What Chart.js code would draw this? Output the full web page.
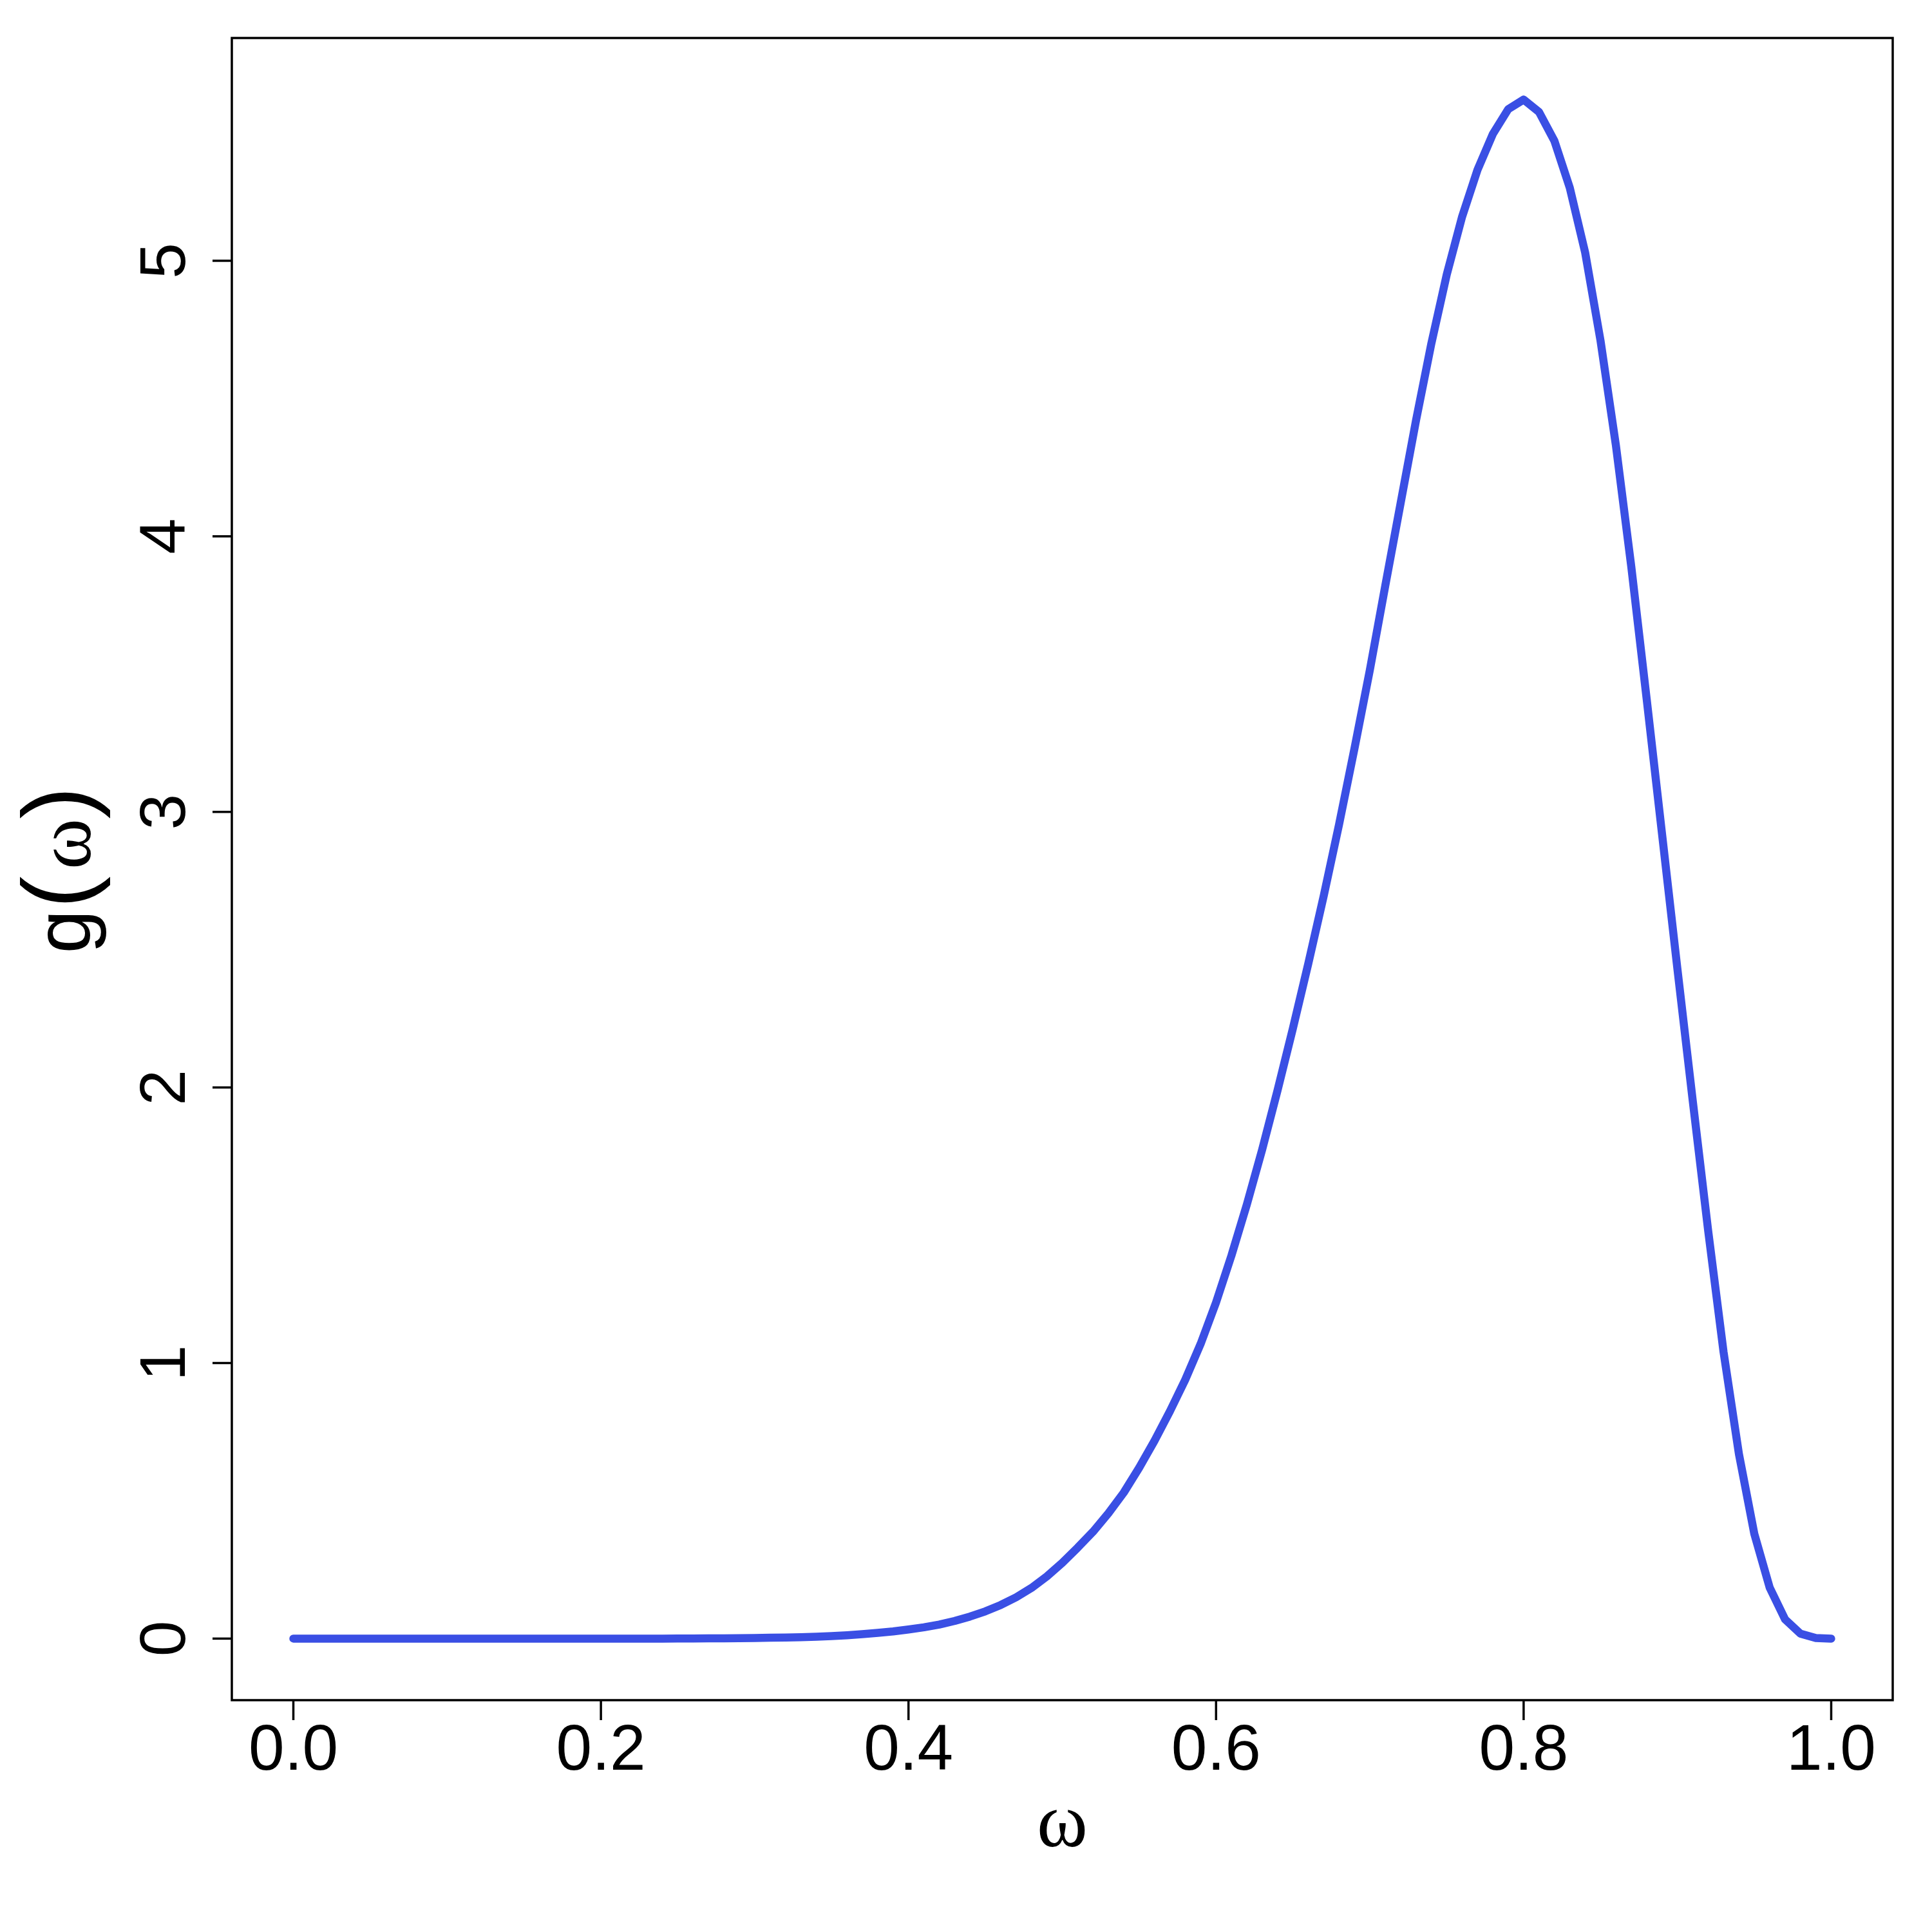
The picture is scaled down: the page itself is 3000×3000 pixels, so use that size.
<!DOCTYPE html>
<html>
<head>
<meta charset="utf-8">
<title>g(ω)</title>
<script src="https://cdn.jsdelivr.net/npm/chart.js@4.4.1/dist/chart.umd.min.js"></script>
<style>
  html, body { margin: 0; padding: 0; background: #ffffff; }
  #wrap { width: 3000px; height: 3000px; }
</style>
</head>
<body>
<div id="wrap"><canvas id="chartG" width="3000" height="3000"></canvas></div>
<script>
// --- Datos (paso 0.01) ---
const omega = [
  0.00, 0.01, 0.02, 0.03, 0.04, 0.05, 0.06, 0.07, 0.08, 0.09,
  0.10, 0.11, 0.12, 0.13, 0.14, 0.15, 0.16, 0.17, 0.18, 0.19,
  0.20, 0.21, 0.22, 0.23, 0.24, 0.25, 0.26, 0.27, 0.28, 0.29,
  0.30, 0.31, 0.32, 0.33, 0.34, 0.35, 0.36, 0.37, 0.38, 0.39,
  0.40, 0.41, 0.42, 0.43, 0.44, 0.45, 0.46, 0.47, 0.48, 0.49,
  0.50, 0.51, 0.52, 0.53, 0.54, 0.55, 0.56, 0.57, 0.58, 0.59,
  0.60, 0.61, 0.62, 0.63, 0.64, 0.65, 0.66, 0.67, 0.68, 0.69,
  0.70, 0.71, 0.72, 0.73, 0.74, 0.75, 0.76, 0.77, 0.78, 0.79,
  0.80, 0.81, 0.82, 0.83, 0.84, 0.85, 0.86, 0.87, 0.88, 0.89,
  0.90, 0.91, 0.92, 0.93, 0.94, 0.95, 0.96, 0.97, 0.98, 0.99,
  1.00
];

const gValues = [
  0, 0, 0, 0, 0, 0, 0, 0, 0, 0,
  0, 0, 0, 0, 0, 0, 0, 0, 0, 0,
  0, 0, 0, 0, 0, 0.0003, 0.0005, 0.0008, 0.001, 0.0015,
  0.002, 0.003, 0.004, 0.005, 0.007, 0.009, 0.012, 0.016, 0.021, 0.026,
  0.033, 0.041, 0.051, 0.064, 0.080, 0.099, 0.122, 0.150, 0.184, 0.226,
  0.275, 0.330, 0.388, 0.455, 0.530, 0.620, 0.718, 0.825, 0.940, 1.07,
  1.22, 1.39, 1.575, 1.775, 1.99, 2.215, 2.45, 2.695, 2.955, 3.23,
  3.515, 3.82, 4.12, 4.42, 4.70, 4.95, 5.16, 5.33, 5.46, 5.55,
  5.585, 5.54, 5.435, 5.265, 5.03, 4.71, 4.33, 3.89, 3.41, 2.92,
  2.43, 1.95, 1.48, 1.04, 0.67, 0.38, 0.185, 0.07, 0.018, 0.002,
  0
];

const xTicks = [0, 0.2, 0.4, 0.6, 0.8, 1.0];
const xTickLabels = ["0.0", "0.2", "0.4", "0.6", "0.8", "1.0"];
const yTicks = [0, 1, 2, 3, 4, 5];
const yTickLabels = ["0", "1", "2", "3", "4", "5"];

// --- Estilo ---
const LINE_COLOR = "#3a4fe4";
const SANS = '"Liberation Sans", Arial, Helvetica, sans-serif';
const SERIF = '"Liberation Serif", "Times New Roman", serif';

// rango tipo R (4% de margen a cada lado)
const yPeak = Math.max(...gValues);
const X_MIN = -0.04, X_MAX = 1.04;
const Y_MIN = -0.04 * yPeak, Y_MAX = 1.04 * yPeak;

// --- Ejes, marco y títulos al estilo base de R ---
const rAxesPlugin = {
  id: "rAxes",
  afterDraw(chart) {
    const { ctx, chartArea, scales } = chart;
    const { left, right, top, bottom } = chartArea;
    const xs = scales.x, ys = scales.y;

    ctx.save();
    ctx.strokeStyle = "#000";
    ctx.fillStyle = "#000";
    ctx.lineWidth = 3.5;
    ctx.lineCap = "butt";

    // marco
    ctx.strokeRect(left, top, right - left, bottom - top);

    // eje x
    ctx.font = "100px " + SANS;
    ctx.textAlign = "center";
    ctx.textBaseline = "alphabetic";
    xTicks.forEach((v, i) => {
      const px = xs.getPixelForValue(v);
      ctx.beginPath();
      ctx.moveTo(px, bottom);
      ctx.lineTo(px, bottom + 31);
      ctx.stroke();
      ctx.fillText(xTickLabels[i], px, bottom + 108);
    });

    // eje y (etiquetas giradas, como las=0)
    yTicks.forEach((v, i) => {
      const py = ys.getPixelForValue(v);
      ctx.beginPath();
      ctx.moveTo(left, py);
      ctx.lineTo(left - 30, py);
      ctx.stroke();
      ctx.save();
      ctx.translate(left - 73, py);
      ctx.rotate(-Math.PI / 2);
      ctx.fillText(yTickLabels[i], 0, 0);
      ctx.restore();
    });

    // título x: ω
    const cx = (left + right) / 2;
    ctx.font = "120px " + SERIF;
    ctx.fillText("ω", cx, bottom + 227);

    // título y: g(ω)
    const cy = (top + bottom) / 2;
    ctx.save();
    ctx.translate(left - 220, cy);
    ctx.rotate(-Math.PI / 2);
    ctx.font = "122px " + SANS;
    ctx.fillText("g", -97, 0);
    ctx.font = "150px " + SANS;
    ctx.fillText("(", -36, 0);
    ctx.fillText(")", 103, 0);
    ctx.font = "120px " + SERIF;
    ctx.fillText("ω", 39, 0);
    ctx.restore();

    ctx.restore();
  },
};

const canvas = document.getElementById("chartG");
new Chart(canvas, {
  type: "line",
  data: {
    datasets: [
      {
        label: "g(ω)",
        data: omega.map((w, i) => ({ x: w, y: gValues[i] })),
        borderColor: LINE_COLOR,
        borderWidth: 12.5,
        borderCapStyle: "round",
        borderJoinStyle: "round",
        pointRadius: 0,
        tension: 0,
        fill: false,
      },
    ],
  },
  options: {
    responsive: false,
    animation: false,
    devicePixelRatio: 1,
    layout: { padding: { left: 360, right: 61, top: 59, bottom: 360 } },
    plugins: { legend: { display: false }, tooltip: { enabled: false } },
    scales: {
      x: { type: "linear", min: X_MIN, max: X_MAX, display: false },
      y: { type: "linear", min: Y_MIN, max: Y_MAX, display: false },
    },
  },
  plugins: [rAxesPlugin],
});
</script>
</body>
</html>
